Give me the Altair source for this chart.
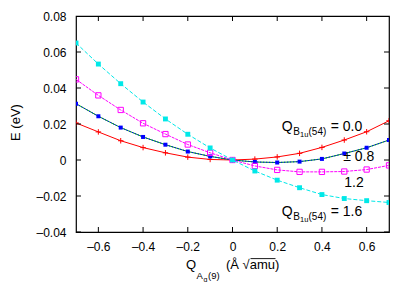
import altair as alt
import pandas as pd

# ---------------- data ----------------
Q_AG = [-0.7, -0.6, -0.5, -0.4, -0.3, -0.2, -0.1, 0.0, 0.1, 0.2, 0.3, 0.4, 0.5, 0.6, 0.7]
E_00 = [0.0206, 0.0156, 0.0107, 0.0069, 0.0040, 0.0016, 0.0003, 0.0, 0.0005, 0.0017, 0.0037, 0.0070, 0.0111, 0.0157, 0.0218]
E_P08 = [0.0313, 0.0243, 0.0180, 0.0128, 0.0085, 0.0047, 0.0020, 0.0, -0.0011, -0.0014, -0.0009, 0.0006, 0.0036, 0.0068, 0.0111]
E_M08 = [0.0313, 0.0243, 0.0180, 0.0128, 0.0085, 0.0047, 0.0020, 0.0, -0.0011, -0.0014, -0.0009, 0.0006, 0.0036, 0.0068, 0.0111]
E_12 = [0.0448, 0.0359, 0.0278, 0.0204, 0.0144, 0.0086, 0.0040, 0.0, -0.0033, -0.0055, -0.0066, -0.0066, -0.0064, -0.0053, -0.0030]
E_16 = [0.0650, 0.0533, 0.0424, 0.0322, 0.0228, 0.0143, 0.0067, 0.0, -0.0061, -0.0112, -0.0154, -0.0192, -0.0214, -0.0226, -0.0236]

X_TICKS = [-0.6, -0.4, -0.2, 0.0, 0.2, 0.4, 0.6]
Y_TICKS = [-0.04, -0.02, 0.0, 0.02, 0.04, 0.06, 0.08]
X_DOMAIN = [-0.7, 0.7]
Y_DOMAIN = [-0.04, 0.08]

Y_TITLE = "E (eV)"
X_TITLE_PARTS = ["Q", "A", "g", "(9)", "(Å √amu)"]
LBL_SUB = ["Q", "B", "1u", "(54)"]
LBL_00 = "= 0.0"
LBL_08 = "± 0.8"
LBL_12 = "1.2"
LBL_16 = "= 1.6"

FONT = "Liberation Sans"

xs = alt.Scale(domain=X_DOMAIN, nice=False, zero=False)
ys = alt.Scale(domain=Y_DOMAIN, nice=False, zero=False)

x_axis = alt.Axis(
    values=X_TICKS, ticks=False, domain=False, grid=False, title=None,
    labelFont=FONT, labelFontSize=12, labelColor="black", labelPadding=9,
    labelExpr="datum.value == 0 ? '0' : (datum.value < 0 ? '–' : '') + format(abs(datum.value), '.1f')",
)
y_axis = alt.Axis(
    values=Y_TICKS, ticks=False, domain=False, grid=False, title=Y_TITLE,
    labelFont=FONT, labelFontSize=12, labelColor="black", labelPadding=10,
    labelExpr="datum.value == 0 ? '0' : (datum.value < 0 ? '–' : '') + format(abs(datum.value), '.2f')",
    titleFont=FONT, titleFontSize=13, titleFontWeight="normal", titleColor="black",
    titleX=-54, titleY=106,
)


def series_df(vals):
    return pd.DataFrame({"q": Q_AG, "e": vals})


def enc_x():
    return alt.X("q:Q", scale=xs, axis=x_axis)


def enc_y():
    return alt.Y("e:Q", scale=ys, axis=y_axis)


layers = []


def add_series(vals, color, dash, shape, size, filled):
    df = series_df(vals)
    line_kwargs = dict(color=color, strokeWidth=1, clip=True)
    if dash:
        line_kwargs["strokeDash"] = dash
    layers.append(alt.Chart(df).mark_line(**line_kwargs).encode(x=enc_x(), y=enc_y()))
    if shape is not None:
        pk = dict(shape=shape, size=size, filled=filled, color=color, opacity=1, clip=True)
        if not filled:
            pk["strokeWidth"] = 1
        layers.append(alt.Chart(df).mark_point(**pk).encode(x=enc_x(), y=enc_y()))


PLUS = "M-1,0L1,0M0,-1L0,1"
add_series(E_00, "#ff0000", None, PLUS, 30, False)
add_series(E_P08, "#00b000", None, None, 0, True)
add_series(E_M08, "#0000ff", [1.5, 1.5], "square", 16, True)
add_series(E_12, "#ff00ff", [3, 1], "square", 28, False)
add_series(E_16, "#00e8e8", [4, 2], "square", 24, True)

# inward tick marks on all four sides
xt = pd.DataFrame({"q": X_TICKS * 2, "e": [Y_DOMAIN[0]] * len(X_TICKS) + [Y_DOMAIN[1]] * len(X_TICKS)})
yt = pd.DataFrame({"q": [X_DOMAIN[0]] * len(Y_TICKS) + [X_DOMAIN[1]] * len(Y_TICKS), "e": Y_TICKS * 2})
layers.append(alt.Chart(xt).mark_tick(orient="vertical", size=10, thickness=1, color="black", clip=True, opacity=1)
              .encode(x=enc_x(), y=enc_y()))
layers.append(alt.Chart(yt).mark_tick(orient="horizontal", size=10, thickness=1, color="black", clip=True, opacity=1)
              .encode(x=enc_x(), y=enc_y()))


def txt(x, y, s, dx, dy, size, align="left"):
    df = pd.DataFrame({"q": [x], "e": [y], "t": [s]})
    return alt.Chart(df).mark_text(
        align=align, baseline="alphabetic", dx=dx, dy=dy, fontSize=size,
        font=FONT, color="black", clip=False
    ).encode(x=enc_x(), y=enc_y(), text="t:N")


def q_label(x, y, tail):
    return [
        txt(x, y, LBL_SUB[0], 0, 0, 14),
        txt(x, y, LBL_SUB[1], 11.5, 4, 10),
        txt(x, y, LBL_SUB[2], 18.3, 6.5, 7.5),
        txt(x, y, LBL_SUB[3], 26.8, 4, 10),
        txt(x, y, tail, 49, 0, 14),
    ]


layers += q_label(0.22, 0.0162, LBL_00)
layers.append(txt(0.495, -0.0008, LBL_08, 0, 0, 14))
layers.append(txt(0.50, -0.0148, LBL_12, 0, 0, 14))
layers += q_label(0.22, -0.0311, LBL_16)

# x-axis title with subscripts, anchored at bottom centre of the axis
ax0, ay0 = 0.0, Y_DOMAIN[0]
layers.append(txt(ax0, ay0, X_TITLE_PARTS[0], -46.5, 37, 13))
layers.append(txt(ax0, ay0, X_TITLE_PARTS[1], -36, 47, 9.5))
layers.append(txt(ax0, ay0, X_TITLE_PARTS[2], -29, 49.5, 7))
layers.append(txt(ax0, ay0, X_TITLE_PARTS[3], -24.5, 47, 9.5))
layers.append(txt(ax0, ay0, X_TITLE_PARTS[4], -6.5, 37, 13))
# radical overbar over "amu"
layers.append(alt.Chart(pd.DataFrame({"a": [0]})).mark_rule(color="black", strokeWidth=0.9).encode(
    x=alt.value(174.5), x2=alt.value(199.5), y=alt.value(242.6)))

chart = alt.layer(*layers).properties(
    width=313, height=216,
    autosize=alt.AutoSizeParams(type="none"),
    padding={"left": 68, "top": 8, "right": 10, "bottom": 50},
    background="white",
).configure_view(stroke="black", strokeWidth=1.2)

chart.save("out.html", embed_options={"renderer": "svg", "actions": False})
